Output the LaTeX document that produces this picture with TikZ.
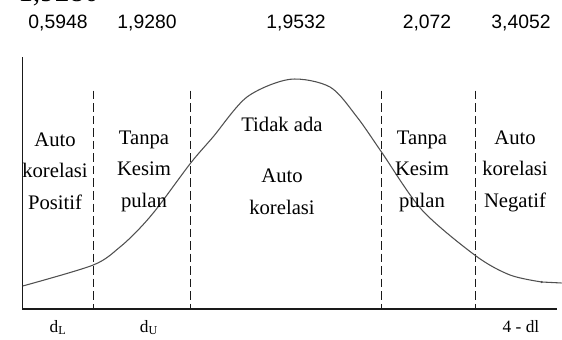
\documentclass[tikz,border=0pt]{standalone}
\usepackage{fontspec}
\setmainfont{Liberation Serif}
\newfontfamily\numfont{Liberation Sans}
\usetikzlibrary{positioning}
\definecolor{dwInk}  {HTML}{1A1A1A}
\definecolor{dwCurve}{HTML}{505050}

\tikzset{
  zone/.style={align=center,inner sep=0,font=\fontsize{15.5}{23.6}\selectfont},
  dval/.style={anchor=base,inner sep=0,font=\numfont\fontsize{14.5}{17}\selectfont},
  dlab/.style={anchor=base,inner sep=0,font=\fontsize{13}{15}\selectfont},
  bound/.style={dwInk,line width=0.8pt,dash pattern=on 6.4pt off 3pt},
}

\begin{document}
\begin{tikzpicture}[x=0.75pt,y=-0.75pt]
    \useasboundingbox (0,0) rectangle (562,340);
    % heading cut off at the top
    \node[anchor=base west,inner sep=0,font=\fontsize{22}{26}\selectfont] (head) at (18,1.5) {1,9280};
    % critical values
    \node[dval] (v1) at (58,28)  {0,5948};
    \node[dval] (v2) at (147,28) {1,9280};
    \node[dval] (v3) at (296,28) {1,9532};
    \node[dval] (v4) at (427,28) {2,072};
    \node[dval] (v5) at (521,28) {3,4052};
    % axes
    \coordinate (o)    at (22.7,309);
    \coordinate (ytop) at (22.7,57);
    \coordinate (xend) at (557,309);
    \draw[dwInk,line width=0.9pt] (ytop) -- (o) -- (xend);
    % region bounds
    \foreach \bx [count=\i] in {93.3,190.7,381.5,475.7}{
      \coordinate (b\i) at (\bx,90.7);
      \draw[bound] (b\i) -- (b\i |- o);
    }
    % distribution curve
    \draw[dwCurve,line width=0.8pt] plot[smooth,tension=0.5] coordinates
      {(22.7,286) (93.3,265) (120,247) (140,228) (158,207) (190.7,163) (213,137)
       (247,97) (290,79.3) (330,87) (357,117) (381.5,152) (422,210) (476,256)
       (510,275) (541.7,282)} -- (561.7,283);
    \fill[dwCurve] (541.7,282) circle (1.2);
    % regions
    \node[zone] (zL)  at (55,171)  {Auto\\korelasi\\Positif};
    \node[zone] (zU)  at (144,171) {Tanpa\\Kesim\\pulan};
    \node[zone] (zM1) at (282,124) {Tidak ada};
    \node[zone,below=28pt of zM1.south,anchor=north] (zM2) {Auto\\korelasi};
    \node[zone] (zU2) at (422,171) {Tanpa\\Kesim\\pulan};
    \node[zone] (zR)  at (515,171) {Auto\\korelasi\\Negatif};
    % bottom labels
    \node[dlab] (dL)  at (58,332)  {d\textsubscript{L}};
    \node[dlab] (dU)  at (149,332) {d\textsubscript{U}};
    \node[dlab] (dl4) at (521,332) {4 - dl};
\end{tikzpicture}
\end{document}
